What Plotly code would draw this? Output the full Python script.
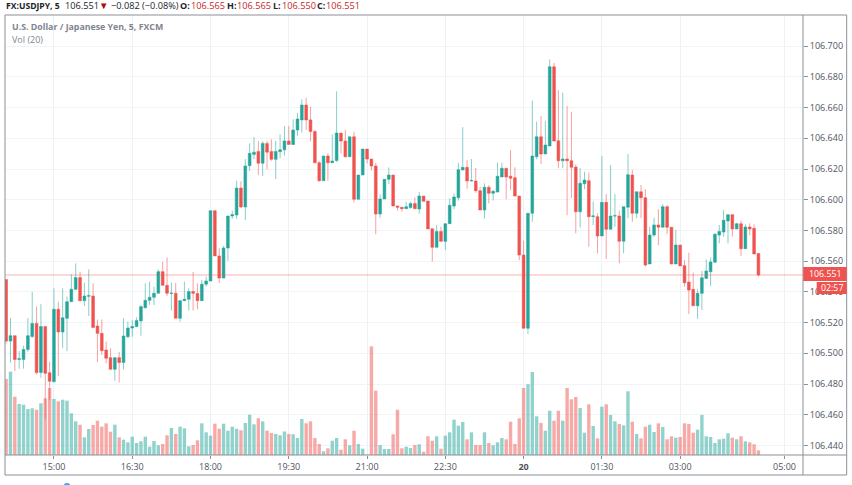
import pandas as pd
import plotly.graph_objects as go

W, H = 852, 485
L, R, T, B = 5, 803.3, 15, 455

start = pd.Timestamp("2019-08-19 14:05")

opens = [106.548,106.508,106.5115,106.496,106.496,106.5025,106.511,106.5195,106.4875,106.5175,
 106.4874,106.4815,106.5287,106.5139,106.5228,106.5336,106.5417,106.5493,106.5343,106.5372,
 106.5373,106.5178,106.513,106.5022,106.4972,106.4896,106.4972,106.494,106.5108,106.5165,
 106.5174,106.5211,106.5297,106.5345,106.5365,106.5391,106.5532,106.5443,106.539,106.5391,
 106.5228,106.5343,106.5352,106.5402,106.539,106.5343,106.545,106.5471,106.5929,106.5634,
 106.549,106.5686,106.5894,106.5901,106.6076,106.5953,106.6222,106.6295,106.6315,106.6238,
 106.6367,106.6315,106.6263,106.6313,106.6325,106.6383,106.636,106.6454,106.652,106.6617,
 106.652,106.6444,106.6241,106.6124,106.6285,106.6241,106.6255,106.6434,106.6382,106.628,
 106.641,106.6003,106.6161,106.633,106.6265,106.622,106.5907,106.6005,106.6133,106.6161,
 106.596,106.5951,106.5942,106.5949,106.5975,106.594,106.6024,106.5992,106.5811,106.569,
 106.5794,106.5729,106.5844,106.5959,106.6013,106.6194,106.6211,106.6122,106.6122,106.6059,
 106.5933,106.6081,106.6042,106.605,106.6148,106.6205,106.6153,106.6143,106.6024,106.564,
 106.5163,106.5912,106.628,106.641,106.6298,106.635,106.6866,106.6384,106.6254,106.6265,
 106.6254,106.6213,106.5922,106.6104,106.6124,106.589,106.589,106.5764,106.5983,106.5808,
 106.5894,106.5894,106.573,106.5951,106.6161,106.5912,106.6052,106.6013,106.5582,106.577,
 106.5836,106.5821,106.5955,106.5821,106.5582,106.5705,106.5571,106.5464,106.5417,106.531,
 106.5391,106.5488,106.5531,106.5593,106.577,106.579,106.5862,106.5903,106.581,106.5844,
 106.5681,106.5823,106.5814,106.565]
highs = [106.548,106.523,106.5115,106.5015,106.505,106.523,106.54,106.5305,106.532,106.5175,
 106.4946,106.5423,106.5336,106.5423,106.5369,106.5514,106.5586,106.5532,106.546,106.5547,
 106.5456,106.522,106.522,106.5076,106.5033,106.4972,106.501,106.5228,106.5206,106.5217,
 106.5234,106.5315,106.5456,106.5467,106.5434,106.5547,106.5597,106.5625,106.546,106.546,
 106.5343,106.5467,106.5423,106.553,106.5456,106.5478,106.55,106.5929,106.5929,106.5686,
 106.57,106.5894,106.5929,106.6124,106.612,106.6265,106.6367,106.6409,106.6381,106.6381,
 106.6384,106.6393,106.6383,106.6426,106.648,106.648,106.6524,106.6565,106.6654,106.6664,
 106.6606,106.6456,106.6252,106.6285,106.6302,106.6426,106.6706,106.6434,106.6454,106.641,
 106.6443,106.6161,106.633,106.633,106.6265,106.6241,106.6035,106.6133,106.621,106.6161,
 106.596,106.5951,106.5987,106.5987,106.6016,106.6052,106.6024,106.5992,106.5811,106.5836,
 106.5825,106.5844,106.6009,106.6042,106.6241,106.6473,106.6259,106.6265,106.6207,106.6085,
 106.6107,106.6096,106.6063,106.6241,106.6241,106.6205,106.6324,106.6211,106.6024,106.5733,
 106.5912,106.6645,106.6508,106.6545,106.6514,106.6914,106.689,106.6714,106.6697,106.661,
 106.6573,106.6231,106.6205,106.6182,106.6176,106.5987,106.5912,106.6285,106.6037,106.6226,
 106.6037,106.5929,106.5955,106.6298,106.6194,106.6052,106.6096,106.607,106.5824,106.5883,
 106.5938,106.5972,106.5965,106.5821,106.5803,106.5705,106.5608,106.5655,106.5525,106.5417,
 106.5536,106.5612,106.5625,106.5783,106.5836,106.5933,106.5903,106.5903,106.585,106.5864,
 106.584,106.5846,106.584,106.565]
lows = [106.5065,106.494,106.4885,106.49,106.49,106.501,106.51,106.486,106.484,106.457,
 106.4696,106.4812,106.4853,106.5033,106.5015,106.5336,106.5412,106.534,106.5308,106.5243,
 106.5165,106.4942,106.499,106.4935,106.4896,106.4822,106.481,106.4896,106.5098,106.5108,
 106.517,106.5115,106.5293,106.5315,106.5315,106.5391,106.5443,106.5373,106.5278,106.5228,
 106.5206,106.534,106.5278,106.5278,106.5287,106.534,106.5434,106.5471,106.5634,106.5458,
 106.549,106.5603,106.5875,106.5875,106.5945,106.5868,106.6187,106.6265,106.6161,106.6155,
 106.6198,106.6254,106.6135,106.627,106.6287,106.636,106.6356,106.6415,106.6437,106.6454,
 106.638,106.6241,106.6117,106.6124,106.6124,106.6241,106.6245,106.6302,106.6275,106.628,
 106.5983,106.6003,106.6161,106.6237,106.619,106.5775,106.5883,106.6005,106.6102,106.596,
 106.5929,106.5922,106.5942,106.5942,106.5942,106.591,106.599,106.581,106.5597,106.569,
 106.5729,106.5673,106.5844,106.5938,106.5994,106.6194,106.6072,106.612,106.6045,106.5933,
 106.5877,106.5977,106.5994,106.605,106.6148,106.6003,106.6063,106.6024,106.5606,106.5163,
 106.5126,106.5857,106.6265,106.6233,106.6298,106.635,106.6382,106.6205,106.6205,106.590,
 106.6011,106.5781,106.582,106.6068,106.5694,106.5836,106.5651,106.5764,106.5614,106.5808,
 106.5824,106.5586,106.5651,106.5879,106.5857,106.5879,106.5879,106.5564,106.5582,106.5759,
 106.5705,106.5821,106.5777,106.558,106.5582,106.5569,106.5434,106.5256,106.531,106.5224,
 106.5282,106.5488,106.5438,106.5593,106.5716,106.5759,106.5716,106.5759,106.581,106.5634,
 106.5681,106.5769,106.5647,106.550]
closes = [106.508,106.5115,106.496,106.4965,106.5025,106.5115,106.5195,106.4875,106.5175,106.487,
 106.4818,106.5287,106.5139,106.5232,106.5336,106.5417,106.5493,106.5343,106.5373,106.5375,
 106.5169,106.513,106.5017,106.4968,106.4896,106.4972,106.494,106.5113,106.5165,106.5174,
 106.5213,106.5304,106.5345,106.5365,106.5391,106.5532,106.5443,106.5391,106.5392,106.5228,
 106.5343,106.5352,106.5402,106.5391,106.5343,106.545,106.5471,106.5929,106.5634,106.549,
 106.5686,106.5894,106.5903,106.6076,106.5953,106.622,106.6302,106.631,106.6238,106.6367,
 106.631,106.6263,106.6315,106.6325,106.6383,106.636,106.6454,106.6526,106.6617,106.652,
 106.6444,106.6241,106.6124,106.6285,106.6241,106.6252,106.6434,106.6382,106.628,106.641,
 106.6003,106.6161,106.633,106.6265,106.622,106.5907,106.6005,106.6133,106.6161,106.596,
 106.5951,106.5942,106.5955,106.5975,106.5942,106.6024,106.599,106.581,106.569,106.5794,
 106.5729,106.5844,106.5964,106.6018,106.6196,106.6211,106.6122,106.6125,106.6059,106.5933,
 106.6081,106.6042,106.6055,106.6153,106.6205,106.6148,106.614,106.6024,106.564,106.5163,
 106.5912,106.6285,106.641,106.6298,106.6356,106.6866,106.6382,106.6254,106.6265,106.6254,
 106.6211,106.5922,106.6107,106.6128,106.589,106.5895,106.5764,106.5983,106.5808,106.5894,
 106.5896,106.573,106.5955,106.6163,106.5912,106.6052,106.6013,106.5575,106.577,106.5836,
 106.5821,106.5955,106.5821,106.5582,106.5705,106.5569,106.546,106.5412,106.531,106.5391,
 106.5492,106.5536,106.5595,106.5775,106.5794,106.5866,106.5903,106.581,106.5844,106.5681,
 106.5823,106.581,106.5647,106.551]
volumes = [76,83.3,58.3,51,50.3,46,46.7,45.3,51.7,56.7,
 67,56,53.7,55.3,54.3,41.7,33.7,30.3,17.7,26,
 30,34.3,28.3,31.7,23.3,30.3,17.7,15.3,12.7,18.3,
 12,13.7,18.3,8.3,14,9.7,11,19.7,27,21,
 28.3,26.7,8.7,10,14.7,31.7,22.7,19.3,31.3,26.3,
 31.3,24.3,28.3,26.3,24.7,32,40.3,30.7,36.7,33.7,
 24.3,22,21,19.7,23.5,21,20.7,17,36,31.7,
 33.7,17,11,3.7,6.7,14.3,17,5.3,15.7,9.7,
 24.3,11,6.3,0.5,108.7,64.3,10,6,6,20.7,
 45.3,6.7,8.3,7,10,10.7,3.3,18.7,14.3,18.7,
 6.3,19.3,22.7,35.3,29.3,33,15.7,22.7,10,10,
 22.7,12,9.7,12.7,17,15.7,33.3,11,36.7,67,
 70.7,83,38.7,32,24.3,44.3,34.3,44.3,34.3,67,
 55.7,58,47,22.3,50.7,29,16.7,48.3,50.7,40,
 33.7,31,29.7,63.7,33.3,21,16.7,28.3,30.3,23,
 31.7,28,15.7,18.7,17.3,18,31.7,31,22.3,25.3,
 40,18.7,18,12,15.7,16.3,21.7,17.3,15.7,18.7,
 13.7,12.7,10.7,4.7]

price_ticks = [106.44,106.46,106.48,106.50,106.52,106.54,106.56,106.58,106.60,106.62,106.64,106.66,106.68,106.70]
time_ticks = ["2019-08-19 15:00","2019-08-19 16:30","2019-08-19 18:00","2019-08-19 19:30","2019-08-19 21:00",
              "2019-08-19 22:30","2019-08-20 00:00","2019-08-20 01:30","2019-08-20 03:00","2019-08-20 05:00"]
time_labels = ["15:00","16:30","18:00","19:30","21:00","22:30","<b>20</b>","01:30","03:00","05:00"]
last_price = 106.551

assert len(opens) == len(highs) == len(lows) == len(closes) == len(volumes) == 174

UP, DOWN = "#26a69a", "#ef5350"
UP_W, DOWN_W = "rgba(38,166,154,0.55)", "rgba(239,83,80,0.55)"
UP_V, DOWN_V = "rgba(38,166,154,0.5)", "rgba(239,83,80,0.5)"
GRID = "#f0f4f8"
FRAME = "#8d8f96"
FONT = "Open Sans"

times = pd.date_range(start, periods=len(closes), freq="5min")
vol_colors = [UP_V if c >= o else DOWN_V for o, c in zip(opens, closes)]

fig = go.Figure()
fig.add_trace(go.Bar(x=times, y=volumes, marker=dict(color=vol_colors, line_width=0), yaxis="y2", showlegend=False))
fig.add_trace(go.Candlestick(
    x=times, open=opens, high=highs, low=lows, close=closes, showlegend=False, whiskerwidth=0,
    increasing=dict(line=dict(color=UP_W, width=1), fillcolor=UP),
    decreasing=dict(line=dict(color=DOWN_W, width=1), fillcolor=DOWN)))

def px(x): return (x - L) / (R - L)
def py(y): return (B - y) / (B - T)

def label(x, y, text, color="#2a2e39", size=9, anchor="left"):
    fig.add_annotation(xref="paper", yref="paper", x=px(x), y=py(y), text=text, showarrow=False,
                       xanchor=anchor, yanchor="middle", borderpad=0,
                       font=dict(family=FONT, size=size, color=color))

def line(x0, y0, x1, y1, color=FRAME, width=1):
    fig.add_shape(type="line", xref="paper", yref="paper", x0=px(x0), y0=py(y0), x1=px(x1), y1=py(y1),
                  line=dict(color=color, width=width), layer="above")

def box(x0, y0, x1, y1, color):
    fig.add_shape(type="rect", xref="paper", yref="paper", x0=px(x0), y0=py(y0), x1=px(x1), y1=py(y1),
                  line_width=0, fillcolor=color, layer="above")

fig.add_shape(type="line", xref="paper", yref="y", x0=0, x1=1, y0=last_price, y1=last_price,
              line=dict(color="rgba(239,83,80,0.45)", width=1), layer="above")

# frame
line(5, 15, 847, 15); line(5, 475, 847, 475); line(5, 15, 5, 475); line(847, 15, 847, 475)
line(803.3, 15, 803.3, 475); line(5, 455, 847, 455)

# price tags
box(803.5, 267, 847, 281, DOWN)
box(817, 282, 847, 294, DOWN)
label(825.5, 274, "106.551", "#ffffff", 8.8, "center")
label(832, 288, "02:57", "#ffffff", 8.8, "center")

# header
DARK = "#20242c"; VAL = "#c62828"
label(5, 5.5, "<b>FX:USDJPY, 5</b>", DARK, 8.6)
label(64, 5.5, "106.551", DARK, 9.2)
label(98.5, 5.5, "▼", "#a80f0f", 9.5)
label(110, 5.5, "−0.082 (−0.08%)", DARK, 9.2)
label(179, 5.5, "<b>O:</b>", DARK, 9)
label(190, 5.5, "106.565", VAL, 9.2)
label(226, 5.5, "<b>H:</b>", DARK, 9)
label(236, 5.5, "106.565", VAL, 9.2)
label(272, 5.5, "<b>L:</b>", DARK, 9)
label(281, 5.5, "106.550", VAL, 9.2)
label(316, 5.5, "<b>C:</b>", DARK, 9)
label(325.5, 5.5, "106.551", VAL, 9.2)
label(11, 27, "<b>U.S. Dollar / Japanese Yen, 5, FXCM</b>", "#808590", 8.8)
label(11, 40, "Vol (20)", "#808590", 9)

# partial blue circle at the page bottom
fig.add_shape(type="circle", xref="paper", yref="paper", x0=px(63.5), x1=px(70.5), y0=py(483), y1=py(490),
              fillcolor="#42a5f5", line_width=0, layer="above")

fig.update_layout(
    width=W, height=H, margin=dict(l=L, r=W - R, t=T, b=H - B, pad=0),
    paper_bgcolor="#ffffff", plot_bgcolor="#ffffff", showlegend=False, boxgap=0.1, bargap=0.22,
    font=dict(family=FONT, size=9, color="#50535e"),
    xaxis=dict(type="date", range=["2019-08-19 14:03:42", "2019-08-20 05:21:15"],
               rangeslider=dict(visible=False), tickmode="array", tickvals=time_ticks, ticktext=time_labels,
               showgrid=True, gridcolor="#eaf2f8", gridwidth=1, ticks="outside", ticklen=3, tickcolor=FRAME,
               tickfont=dict(family=FONT, size=9, color="#50535e"), showline=False, zeroline=False),
    yaxis=dict(side="right", range=[106.4338, 106.7203], tickmode="array", tickvals=price_ticks, tickformat=".3f",
               showgrid=True, gridcolor=GRID, gridwidth=1, ticks="outside", ticklen=4, tickcolor=FRAME,
               tickfont=dict(family=FONT, size=9, color="#50535e"), showline=False, zeroline=False),
    yaxis2=dict(overlaying="y", range=[0, B - T], visible=False, fixedrange=True),
)

fig.write_html("out.html", config=dict(displayModeBar=False), post_script="document.body.style.margin='0';")
